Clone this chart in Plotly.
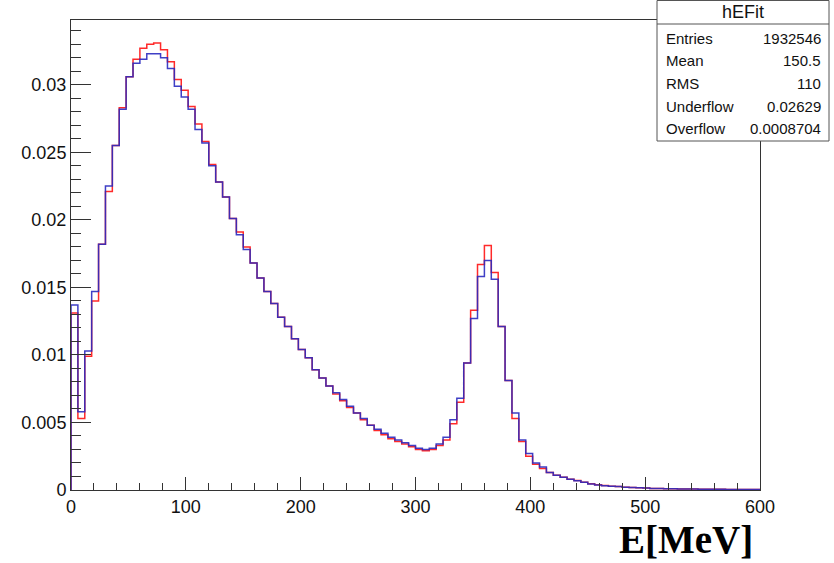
import numpy as np
import plotly.graph_objects as go

# Histogram definition: 100 bins from 0 to 600 MeV
N_BINS = 100
E_MIN, E_MAX = 0.0, 600.0

blue_vals = [
    0.0137, 0.0058, 0.0103, 0.0147, 0.0182, 0.0225, 0.0255, 0.0282, 0.0306, 0.0316,
    0.0319, 0.0323, 0.0323, 0.0320, 0.0312, 0.0299, 0.0291, 0.0282, 0.0267, 0.0257,
    0.0240, 0.0228, 0.0217, 0.0201, 0.0189, 0.0178, 0.0168, 0.0157, 0.0147, 0.0138,
    0.0128, 0.0121, 0.0112, 0.0104, 0.0098, 0.0089, 0.0083, 0.0077, 0.0072, 0.0067,
    0.0062, 0.0057, 0.0053, 0.0048, 0.0045, 0.0042, 0.0039, 0.0037, 0.0035, 0.0033,
    0.0031, 0.0030, 0.0031, 0.0034, 0.0039, 0.0052, 0.0068, 0.0094, 0.0127, 0.0158,
    0.0170, 0.0156, 0.0121, 0.0081, 0.0057, 0.0037, 0.0027, 0.0020, 0.0017, 0.0013,
    0.0011, 0.00094, 0.00079, 0.00069, 0.00057, 0.00045, 0.00037, 0.00032, 0.00028, 0.00025,
    0.00021, 0.00018, 0.00016, 0.00014, 0.00012, 0.00011, 0.00010, 0.00009, 0.00008, 0.00007,
    0.00007, 0.00006, 0.00006, 0.00005, 0.00005, 0.00004, 0.00004, 0.00004, 0.00003, 0.00003,
]

red_vals = [
    0.0131, 0.0053, 0.0099, 0.0140, 0.0182, 0.0221, 0.0255, 0.0283, 0.0306, 0.0319,
    0.0327, 0.0330, 0.0331, 0.0326, 0.0317, 0.0304, 0.0296, 0.0284, 0.0271, 0.0258,
    0.0241, 0.0228, 0.0217, 0.0201, 0.0191, 0.0180, 0.0168, 0.0157, 0.0147, 0.0138,
    0.0128, 0.0121, 0.0112, 0.0104, 0.0098, 0.0089, 0.0083, 0.0077, 0.0071, 0.0066,
    0.0061, 0.0057, 0.0052, 0.0048, 0.0044, 0.0041, 0.0038, 0.0036, 0.0034, 0.0032,
    0.0030, 0.0029, 0.0030, 0.0033, 0.0037, 0.0049, 0.0065, 0.0094, 0.0133, 0.0167,
    0.0181, 0.0161, 0.0121, 0.0081, 0.0053, 0.0036, 0.0025, 0.0019, 0.0016, 0.0013,
    0.0011, 0.00095, 0.00080, 0.00070, 0.00058, 0.00046, 0.00038, 0.00033, 0.00028, 0.00025,
    0.00021, 0.00018, 0.00016, 0.00014, 0.00012, 0.00011, 0.00010, 0.00009, 0.00008, 0.00007,
    0.00007, 0.00006, 0.00006, 0.00005, 0.00005, 0.00004, 0.00004, 0.00004, 0.00003, 0.00003,
]

x_tick_vals = [0, 100, 200, 300, 400, 500, 600]
x_tick_text = ["0", "100", "200", "300", "400", "500", "600"]
y_tick_vals = [0, 0.005, 0.01, 0.015, 0.02, 0.025, 0.03]
y_tick_text = ["0", "0.005", "0.01", "0.015", "0.02", "0.025", "0.03"]

stats_title = "hEFit"
stats_labels = ["Entries", "Mean", "RMS", "Underflow", "Overflow"]
stats_values = ["1932546", "150.5", "110", "0.02629", "0.0008704"]
x_title = "E[MeV]"

edges = np.linspace(E_MIN, E_MAX, N_BINS + 1)


def step_xy(vals):
    xs = [edges[0]] + list(edges) + [edges[-1]]
    ys = [0.0] + list(vals) + [vals[-1], 0.0]
    return xs, ys


# layout geometry (pixels)
W, H = 834, 563
L, R, T, B = 71, 74, 20, 73
PW, PH = W - L - R, H - T - B


def px(xp):
    return (xp - L) / PW


def py(yp):
    return (H - B - yp) / PH


fig = go.Figure()
rx, ry = step_xy(red_vals)
bx, by = step_xy(blue_vals)
fig.add_trace(go.Scatter(x=rx, y=ry, mode="lines", line=dict(color="#ff2a2a", width=1.5, shape="hv"),
                         hoverinfo="skip", showlegend=False))
fig.add_trace(go.Scatter(x=bx, y=by, mode="lines", line=dict(color="#2b2bc0", width=1.5, shape="hv"),
                         opacity=0.9, hoverinfo="skip", showlegend=False))

axis_font = dict(family="Liberation Sans, Arial, sans-serif", size=18, color="#111")

fig.update_layout(
    width=W, height=H,
    margin=dict(l=L, r=R, t=T, b=B, pad=0),
    paper_bgcolor="white", plot_bgcolor="white",
    showlegend=False,
    xaxis=dict(
        range=[E_MIN, E_MAX], showgrid=False, zeroline=False,
        showline=True, linecolor="#333", linewidth=1, mirror=True,
        ticks="inside", ticklen=13, tickcolor="#333", tickwidth=1,
        tickvals=x_tick_vals, ticktext=x_tick_text, tickfont=axis_font,
        minor=dict(ticks="inside", ticklen=7, dtick=20, tickcolor="#333", showgrid=False),
    ),
    yaxis=dict(
        range=[0, 0.0348], showgrid=False, zeroline=False,
        showline=True, linecolor="#333", linewidth=1, mirror=True,
        ticks="inside", ticklen=20, tickcolor="#333", tickwidth=1,
        tickvals=y_tick_vals, ticktext=y_tick_text, tickfont=axis_font,
        minor=dict(ticks="inside", ticklen=10, dtick=0.001, tickcolor="#333", showgrid=False),
    ),
)

# Stats box
bx0, bx1, by0, by1 = 657, 829, 0.5, 141
fig.add_shape(type="rect", xref="paper", yref="paper",
              x0=px(bx0), x1=px(bx1), y0=py(by1), y1=py(by0),
              line=dict(color="#555", width=1), fillcolor="white", layer="above")
fig.add_shape(type="line", xref="paper", yref="paper",
              x0=px(bx0), x1=px(bx1), y0=py(24), y1=py(24),
              line=dict(color="#555", width=1), layer="above")

stat_font = dict(family="Liberation Sans, Arial, sans-serif", size=15, color="#111")
fig.add_annotation(xref="paper", yref="paper", x=px((bx0 + bx1) / 2), y=py(12),
                   text=stats_title, showarrow=False, xanchor="center", yanchor="middle",
                   font=dict(family="Liberation Sans, Arial, sans-serif", size=18, color="#111"))
row_y = [38, 61, 83, 106, 129]
for lab, val, yy in zip(stats_labels, stats_values, row_y):
    fig.add_annotation(xref="paper", yref="paper", x=px(664), y=py(yy), text=lab,
                       showarrow=False, xanchor="left", yanchor="middle", font=stat_font)
    fig.add_annotation(xref="paper", yref="paper", x=px(823), y=py(yy), text=val,
                       showarrow=False, xanchor="right", yanchor="middle", font=stat_font)

# X axis title
fig.add_annotation(xref="paper", yref="paper", x=px(686), y=py(539), text="<b>" + x_title + "</b>",
                   showarrow=False, xanchor="center", yanchor="middle",
                   font=dict(family="Liberation Serif, Times New Roman, serif", size=39, color="#000"))

fig.write_html("out.html", config={"displayModeBar": False},
               post_script="document.body.style.margin='0px';document.body.style.padding='0px';")
